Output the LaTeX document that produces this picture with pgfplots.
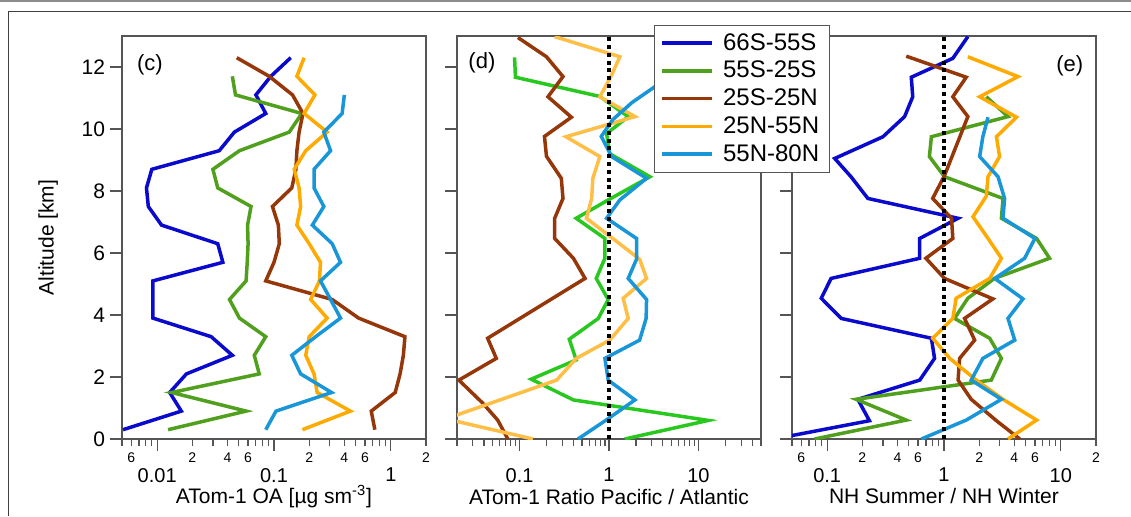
\documentclass[border=0pt]{standalone}
\usepackage{fontspec}
\setmainfont{Liberation Sans}
\usepackage{pgfplots}
\pgfplotsset{compat=1.18}

\definecolor{cA}{RGB}{10,10,205}    % 66S-55S
\definecolor{cB}{RGB}{80,160,30}    % 55S-25S
\definecolor{cBd}{RGB}{40,200,30}   % 55S-25S, panel d
\definecolor{cC}{RGB}{150,55,10}    % 25S-25N
\definecolor{cD}{RGB}{255,170,0}    % 25N-55N
\definecolor{cDd}{RGB}{255,190,70}  % 25N-55N, panel d
\definecolor{cE}{RGB}{25,150,215}   % 55N-80N
\definecolor{axgray}{RGB}{85,85,85}

\pgfplotsset{
  prof/.style={
    scale only axis, width=152pt, height=201.5pt,
    anchor=south west,
    ymin=0, ymax=13, ytick={0,2,...,12},
    tick align=outside, tick pos=left,
    major tick length=6pt, minor tick length=3.5pt,
    axis line style={draw=axgray, line width=0.7pt},
    tick style={draw=axgray, line width=0.6pt},
    x tick label style={font=\fontsize{10}{12}\selectfont},
    y tick label style={font=\fontsize{10.5}{12}\selectfont},
    label style={font=\fontsize{10.5}{12}\selectfont},
    xticklabel shift=5pt, yticklabel shift=-1pt,
  },
  minorlab/.style={
    extra x tick style={
      xticklabel shift=0pt,
      major tick length=3.5pt,
      x tick label style={font=\fontsize{7}{8}\selectfont},
    },
  },
  ln/.style={line width=1.75pt, mark=none, #1},
  one/.style={black, line width=2.2pt, dash pattern=on 2pt off 1.9pt, forget plot},
}

\begin{document}
\begin{tikzpicture}
\useasboundingbox (0pt,0pt) rectangle (565.5pt,258pt);
\draw[black!45, line width=1pt] (0pt,257.5pt) -- (565.5pt,257.5pt);
\draw[black!75, line width=0.5pt] (4pt,0pt) -- (4pt,252.5pt) -- (565.5pt,252.5pt);

% ---------------- (c)
\begin{axis}[prof, minorlab, xmode=log, at={(61pt,38.5pt)},
  xmin=0.005, xmax=2,
  xtick={0.01,0.1,1}, xticklabels={0.01,0.1,1},
  minor xtick={0.005,0.006,0.007,0.008,0.009,0.02,0.03,0.04,0.05,0.06,0.07,0.08,0.09,0.2,0.3,0.4,0.5,0.6,0.7,0.8,0.9,2},
  extra x ticks={0.006,0.02,0.04,0.06,0.2,0.4,0.6,2},
  extra x tick labels={6,2,4,6,2,4,6,2},
  xlabel={ATom-1 OA [µg sm\textsuperscript{-3}]},
  xlabel style={at={(axis description cs:0.5,-0.142)}, anchor=center, inner sep=0pt},
  ylabel={Altitude [km]},
  ylabel style={at={(axis description cs:-0.243,0.5)}, anchor=center},
  /pgf/number format/assume math mode=true,
]
\addplot[ln=cA] coordinates {(0.0051,0.3)(0.0161,0.9)(0.0128,1.5)(0.0178,2.1)(0.044,2.7)(0.029,3.3)(0.0092,3.9)(0.0092,4.5)(0.0092,5.1)(0.0365,5.7)(0.033,6.3)(0.0109,6.9)(0.0084,7.5)(0.0081,8.1)(0.0090,8.7)(0.034,9.3)(0.0458,9.9)(0.085,10.5)(0.070,11.1)(0.094,11.7)(0.139,12.3)};
\addplot[ln=cB] coordinates {(0.0124,0.3)(0.0577,0.9)(0.0133,1.5)(0.0748,2.1)(0.0678,2.7)(0.085,3.3)(0.0506,3.9)(0.0416,4.5)(0.0577,5.1)(0.059,5.7)(0.060,6.3)(0.0594,6.9)(0.0636,7.5)(0.033,8.1)(0.030,8.7)(0.0506,9.3)(0.135,9.9)(0.173,10.5)(0.0468,11.1)(0.044,11.7)};
\addplot[ln=cC] coordinates {(0.73,0.3)(0.68,0.9)(1.09,1.5)(1.20,2.1)(1.28,2.7)(1.32,3.3)(0.53,3.9)(0.315,4.5)(0.085,5.1)(0.10,5.7)(0.111,6.3)(0.109,6.9)(0.097,7.5)(0.142,8.1)(0.154,8.7)(0.157,9.3)(0.164,9.9)(0.177,10.5)(0.144,11.1)(0.091,11.7)(0.048,12.3)};
\addplot[ln=cD] coordinates {(0.175,0.3)(0.451,0.9)(0.234,1.5)(0.22,2.1)(0.187,2.7)(0.2,3.3)(0.285,3.9)(0.206,4.5)(0.245,5.1)(0.25,5.7)(0.2,6.3)(0.157,6.9)(0.169,7.5)(0.164,8.1)(0.149,8.7)(0.187,9.3)(0.285,9.9)(0.181,10.5)(0.224,11.1)(0.157,11.7)(0.181,12.3)};
\addplot[ln=cE] coordinates {(0.085,0.3)(0.104,0.9)(0.311,1.5)(0.169,2.1)(0.142,2.7)(0.227,3.3)(0.371,3.9)(0.305,4.5)(0.25,5.1)(0.371,5.7)(0.315,6.3)(0.213,6.9)(0.267,7.5)(0.22,8.1)(0.22,8.7)(0.305,9.3)(0.267,9.9)(0.383,10.5)(0.40,11.1)};
\node[font=\fontsize{11}{12}\selectfont] at (rel axis cs:0.092,0.928) {(c)};
\end{axis}

% ---------------- (d)
\begin{axis}[prof, xmode=log, at={(228.5pt,38.5pt)},
  xmin=0.02, xmax=50,
  xtick={0.1,1,10}, xticklabels={0.1,1,10},
  minor xtick={0.02,0.03,0.04,0.05,0.06,0.07,0.08,0.09,0.2,0.3,0.4,0.5,0.6,0.7,0.8,0.9,2,3,4,5,6,7,8,9,20,30,40,50},
  yticklabels={},
  xlabel={ATom-1 Ratio Pacific / Atlantic},
  xlabel style={at={(axis description cs:0.5,-0.145)}, anchor=center, inner sep=0pt},
]
\addplot[ln=cBd] coordinates {(1.50,0)(12.9,0.6)(0.40,1.26)(0.135,1.93)(0.43,2.55)(0.36,3.22)(0.76,3.89)(0.98,4.5)(0.72,5.18)(0.9,5.83)(0.9,6.47)(0.43,7.12)(1.02,7.74)(2.87,8.46)(1.02,9.2)(0.94,9.85)(1.64,10.4)(0.79,11.05)(0.09,11.67)(0.088,12.31)};
\addplot[ln=cC] coordinates {(0.074,0)(0.057,0.61)(0.039,1.15)(0.021,1.9)(0.055,2.6)(0.044,3.25)(0.54,5.18)(0.40,5.83)(0.247,6.47)(0.247,7.12)(0.306,7.76)(0.293,8.41)(0.20,9.12)(0.19,9.76)(0.38,10.38)(0.208,11.04)(0.306,11.69)(0.20,12.33)(0.096,12.95)};
\addplot[ln=cDd] coordinates {(0.141,0)(0.015,0.65)(0.26,1.9)(0.43,2.6)(1.02,3.19)(1.64,3.89)(1.44,4.54)(2.63,5.18)(2.2,5.8)(0.56,7.12)(0.64,7.76)(0.66,8.41)(0.79,9.11)(0.33,9.75)(1.95,10.4)(0.79,11.04)(1.07,11.74)(1.32,12.33)(0.247,12.98)};
\addplot[ln=cE] coordinates {(0.45,0)(0.94,0.62)(1.95,1.26)(0.98,1.9)(0.90,2.6)(2.2,3.19)(2.6,3.89)(2.63,4.5)(1.64,5.18)(2.03,5.8)(2.03,6.47)(0.94,7.12)(1.32,7.71)(2.63,8.41)(1.07,9.11)(0.82,9.76)(1.1,10.3)(1.8,10.85)(3.2,11.35)(5,11.8)};
\addplot[one] coordinates {(1,0)(1,13)};
\node[font=\fontsize{11}{12}\selectfont] at (rel axis cs:0.082,0.933) {(d)};
\end{axis}

% ---------------- (e)
\begin{axis}[prof, minorlab, xmode=log, at={(396pt,38.5pt)},
  xmin=0.05, xmax=20,
  xtick={0.1,1,10}, xticklabels={0.1,1,10},
  minor xtick={0.05,0.06,0.07,0.08,0.09,0.2,0.3,0.4,0.5,0.6,0.7,0.8,0.9,2,3,4,5,6,7,8,9,20},
  extra x ticks={0.06,0.2,0.4,0.6,2,4,6,20},
  extra x tick labels={6,2,4,6,2,4,6,2},
  yticklabels={},
  xlabel={NH Summer / NH Winter},
  xlabel style={at={(axis description cs:0.5,-0.142)}, anchor=center, inner sep=0pt},
  legend style={at={(axis description cs:-0.454,1.028)}, anchor=north west,
    draw=axgray, fill=white, line width=0.6pt,
    font=\fontsize{12}{13}\selectfont, row sep=0pt},
  legend cell align=left,
  legend image code/.code={\draw[#1] (0pt,0pt) -- (25pt,0pt); \path (27.5pt,0pt);},
]
\addplot[ln=cA] coordinates {(0.035,0)(0.23,0.59)(0.183,1.28)(0.62,1.9)(0.83,2.6)(0.78,3.25)(0.132,3.89)(0.089,4.54)(0.108,5.18)(0.62,5.83)(0.62,6.47)(1.32,7.12)(0.223,7.76)(0.16,8.46)(0.116,9.05)(0.30,9.75)(0.46,10.4)(0.54,11.04)(0.525,11.67)(1.19,12.28)(1.60,12.98)};
\addlegendentry{66S-55S}
\addplot[ln=cB] coordinates {(0.078,0)(0.475,0.61)(0.177,1.28)(2.54,1.9)(3.1,2.6)(2.46,3.25)(1.23,3.89)(1.60,4.54)(2.7,5.18)(8.0,5.83)(6.2,6.47)(3.1,7.12)(3.2,7.76)(1.01,8.46)(0.75,9.11)(0.78,9.75)(3.53,10.4)(2.30,11.04)};
\addlegendentry{55S-25S}
\addplot[ln=cC] coordinates {(4.45,0)(2.81,0.59)(1.71,1.28)(1.32,1.9)(1.36,2.6)(1.83,3.19)(1.50,3.89)(2.62,4.52)(1.01,5.18)(0.70,5.83)(1.19,6.47)(1.16,7.12)(0.80,7.76)(1.01,8.5)(1.60,10.4)(1.19,11.04)(1.55,11.67)(0.475,12.35)};
\addlegendentry{25S-25N}
\addplot[ln=cD] coordinates {(3.53,0)(6.2,0.61)(3.2,1.28)(1.89,1.9)(1.12,2.6)(0.80,3.25)(1.19,3.89)(1.27,4.54)(2.46,5.18)(3.1,5.83)(2.38,6.47)(1.77,7.17)(2.30,7.83)(2.38,8.46)(2.99,9.11)(2.81,9.75)(4.17,10.38)(2.02,11.04)(4.3,11.69)(1.60,12.33)};
\addlegendentry{25N-55N}
\addplot[ln=cE] coordinates {(0.64,0)(1.55,0.61)(3.1,1.28)(1.71,1.9)(2.15,2.6)(4.03,3.19)(3.53,3.89)(4.74,4.52)(2.72,5.18)(4.9,5.83)(6.0,6.47)(3.2,7.12)(3.3,7.76)(2.9,8.46)(2.02,9.11)(2.15,9.75)(2.38,10.38)};
\addlegendentry{55N-80N}
\addplot[one] coordinates {(1,0)(1,13)};
\node[font=\fontsize{11}{12}\selectfont] at (rel axis cs:0.914,0.926) {(e)};
\end{axis}
\end{tikzpicture}
\end{document}
